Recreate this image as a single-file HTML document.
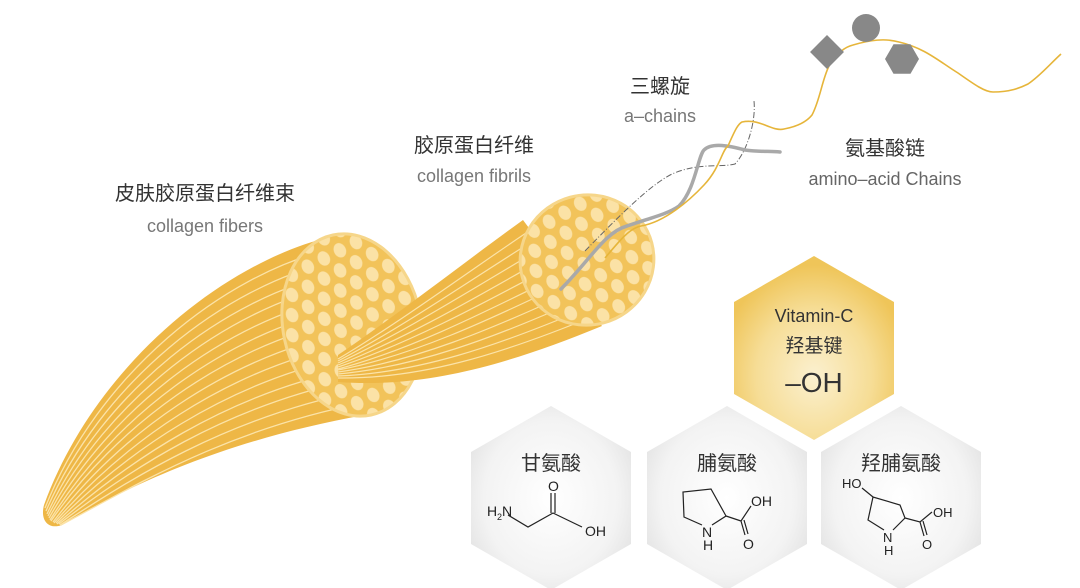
<!DOCTYPE html>
<html><head><meta charset="utf-8"><style>
html,body{margin:0;padding:0;background:#fff;}
svg{display:block;}
text{font-family:"Liberation Sans","Noto Sans CJK SC",sans-serif;}
</style></head><body>
<svg width="1080" height="588" viewBox="0 0 1080 588" xmlns="http://www.w3.org/2000/svg">
<defs>
<pattern id="dots" width="18" height="36" patternUnits="userSpaceOnUse" patternTransform="rotate(-15)">
<rect width="18" height="36" fill="#f2c35a"/>
<ellipse cx="9" cy="9" rx="6" ry="7.5" fill="#fbe2a6"/>
<ellipse cx="0" cy="27" rx="6" ry="7.5" fill="#fbe2a6"/>
<ellipse cx="18" cy="27" rx="6" ry="7.5" fill="#fbe2a6"/>
</pattern>
<radialGradient id="gold" cx="50%" cy="65%" r="60%">
<stop offset="0" stop-color="#fbf0cf"/><stop offset="0.6" stop-color="#f6dd96"/><stop offset="1" stop-color="#efc559"/>
</radialGradient>
<radialGradient id="grey" cx="50%" cy="50%" r="60%">
<stop offset="0" stop-color="#ffffff"/><stop offset="0.7" stop-color="#f3f3f3"/><stop offset="1" stop-color="#e2e2e2"/>
</radialGradient>
</defs>

<!-- big bundle -->
<path d="M330,237 C225,262 95,365 44,505 C40,520 48,530 62,525 C130,485 225,440 365,415 Z" fill="#eeb746"/>
<g fill="none" stroke="#fbe3a8" stroke-width="1.3">
<path d="M332,249 C224,274 98,374 45,508"/>
<path d="M335,261 C224,286 101,383 46,511"/>
<path d="M337,273 C223,298 104,392 47,514"/>
<path d="M339,284 C223,310 107,401 48,516"/>
<path d="M342,296 C223,322 110,410 49,518"/>
<path d="M344,308 C223,334 113,419 50,520"/>
<path d="M346,320 C223,346 115,428 51,521"/>
<path d="M349,332 C223,358 118,437 53,522"/>
<path d="M351,344 C223,370 121,446 54,523"/>
<path d="M353,356 C224,382 123,455 56,523"/>
<path d="M356,368 C224,394 126,463 57,524"/>
<path d="M358,379 C224,406 128,471 59,524"/>
<path d="M360,391 C225,418 131,479 60,525"/>
<path d="M363,403 C225,430 133,487 61,525"/>
</g>
<ellipse cx="352" cy="325" rx="69" ry="92" transform="rotate(-12 352 325)" fill="url(#dots)" stroke="#f6d68a" stroke-width="3"/>

<!-- fibril -->
<path d="M523,220 C470,258 400,313 338,355 L338,382 C420,388 500,368 602,326 Z" fill="#eeb746"/>
<g fill="none" stroke="#fbe3a8" stroke-width="1.2">
<path d="M529,231 C472,269 402,321 338,359"/>
<path d="M536,239 C475,277 403,327 338,361"/>
<path d="M542,248 C477,286 405,332 338,363"/>
<path d="M549,256 C480,295 407,338 338,365"/>
<path d="M555,265 C482,304 408,344 338,367"/>
<path d="M562,274 C485,312 410,350 338,369"/>
<path d="M568,282 C487,321 412,356 338,370"/>
<path d="M574,291 C490,330 413,362 338,372"/>
<path d="M581,299 C492,339 415,367 338,374"/>
<path d="M587,308 C495,347 417,373 338,376"/>
<path d="M594,316 C497,356 418,379 338,378"/>
</g>
<ellipse cx="587" cy="260" rx="67" ry="65" transform="rotate(-15 587 260)" fill="url(#dots)" stroke="#f6d68a" stroke-width="3"/>

<!-- helix -->
<path d="M585,251 C620,215 650,185 672,174 C700,162 720,168 735,164 C748,150 756,120 754,101" fill="none" stroke="#666" stroke-width="1" stroke-dasharray="6,2,1,2"/>
<path d="M561,289 C590,260 605,232 627,226 C650,218 668,214 679,206 C695,190 698,156 704,150 C712,142 730,146 745,150 C760,152 770,151 780,152" fill="none" stroke="#a9a9a9" stroke-width="3.5" stroke-linecap="round"/>
<path d="M605,258 C620,240 630,228 641,226 C665,222 690,200 704,185 C720,168 722,150 728,146 C735,130 738,124 742,122 C760,118 772,132 784,129 C800,126 808,120 812,115 C820,100 822,80 829,66 C838,52 845,47 853,45 C870,40 885,38 899,42 C925,48 940,62 958,73 C975,85 985,92 993,92 C1010,92 1020,88 1028,84 C1040,76 1050,64 1061,54" fill="none" stroke="#e6b53a" stroke-width="1.6"/>
<rect x="815" y="40" width="24" height="24" fill="#888" transform="rotate(45 827 52)"/>
<circle cx="866" cy="28" r="14" fill="#888"/>
<polygon points="919,59 910.5,73.7 893.5,73.7 885,59 893.5,44.3 910.5,44.3" fill="#888"/>

<!-- labels -->
<g text-anchor="middle">
<text x="205" y="200" font-size="20" fill="#333">皮肤胶原蛋白纤维束</text>
<text x="205" y="232" font-size="18" fill="#777">collagen fibers</text>
<text x="474" y="152" font-size="20" fill="#333">胶原蛋白纤维</text>
<text x="474" y="182" font-size="18" fill="#777">collagen fibrils</text>
<text x="660" y="93" font-size="20" fill="#333">三螺旋</text>
<text x="660" y="122" font-size="18" fill="#777">a–chains</text>
<text x="885" y="155" font-size="20" fill="#333">氨基酸链</text>
<text x="885" y="185" font-size="18" fill="#666">amino–acid Chains</text>
</g>

<!-- hexagons -->
<polygon points="814,256 894,302 894,394 814,440 734,394 734,302" fill="url(#gold)"/>
<polygon points="551,406 631,452 631,544 551,590 471,544 471,452" fill="url(#grey)"/>
<polygon points="727,406 807,452 807,544 727,590 647,544 647,452" fill="url(#grey)"/>
<polygon points="901,406 981,452 981,544 901,590 821,544 821,452" fill="url(#grey)"/>

<g text-anchor="middle" fill="#333">
<text x="814" y="322" font-size="18">Vitamin-C</text>
<text x="814" y="352" font-size="19">羟基键</text>
<text x="814" y="392" font-size="28">–OH</text>
<text x="551" y="470" font-size="20">甘氨酸</text>
<text x="727" y="470" font-size="20">脯氨酸</text>
<text x="901" y="470" font-size="20">羟脯氨酸</text>
</g>

<!-- glycine -->
<g fill="none" stroke="#222" stroke-width="1.2">
<path d="M508,515 L528,527 L553,513 L582,527"/>
<path d="M551,513 L551,493 M555,513 L555,493"/>
</g>
<g font-size="14" fill="#222">
<text x="487" y="516">H</text><text x="497" y="520" font-size="9">2</text><text x="502" y="516">N</text>
<text x="548" y="491">O</text>
<text x="585" y="536">OH</text>
</g>

<!-- proline -->
<g fill="none" stroke="#222" stroke-width="1.2">
<path d="M702,525 L684,517 L683,492 L711,489 L726,516 L712,525"/>
<path d="M726,516 L741,521 L751,506 M741,521 L745,535 M744,520 L748,534"/>
</g>
<g font-size="14" fill="#222">
<text x="702" y="537">N</text><text x="703" y="550">H</text>
<text x="751" y="506">OH</text>
<text x="743" y="549">O</text>
</g>

<!-- hydroxyproline -->
<g fill="none" stroke="#222" stroke-width="1.2">
<path d="M884,530 L868,520 L873,497 L900,505 L905,518 L893,530"/>
<path d="M873,497 L862,488 M905,518 L920,522 L932,512 M920,522 L924,536 M923,521 L927,535"/>
</g>
<g font-size="13" fill="#222">
<text x="842" y="488">HO</text>
<text x="883" y="542">N</text><text x="884" y="555">H</text>
<text x="933" y="517">OH</text>
<text x="922" y="549">O</text>
</g>
</svg>
</body></html>
